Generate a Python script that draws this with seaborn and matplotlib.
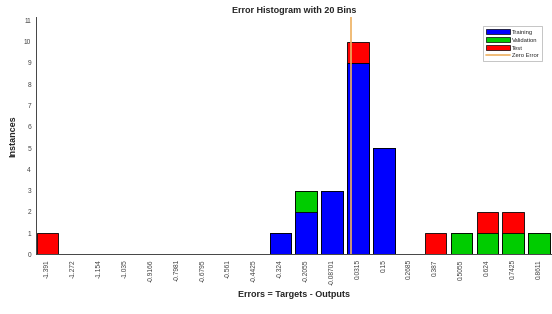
import pandas as pd
import numpy as np
import matplotlib
matplotlib.use("Agg")
import matplotlib.pyplot as plt
import seaborn as sns
from matplotlib.patches import Patch
from matplotlib.lines import Line2D

# bin centers (as shown on the x axis)
bin_labels = ["-1.391", "-1.272", "-1.154", "-1.035", "-0.9166", "-0.7981", "-0.6795",
              "-0.561", "-0.4425", "-0.324", "-0.2055", "-0.08701", "0.0315", "0.15",
              "0.2685", "0.387", "0.5055", "0.624", "0.7425", "0.8611"]
training = [0, 0, 0, 0, 0, 0, 0, 0, 0, 1, 2, 3, 9, 5, 0, 0, 0, 0, 0, 0]
validation = [0, 0, 0, 0, 0, 0, 0, 0, 0, 0, 1, 0, 0, 0, 0, 0, 1, 1, 1, 1]
test = [1, 0, 0, 0, 0, 0, 0, 0, 0, 0, 0, 0, 1, 0, 0, 1, 0, 1, 1, 0]

df = pd.DataFrame({"bin": bin_labels, "Training": training,
                   "Validation": validation, "Test": test})
df["train_val"] = df["Training"] + df["Validation"]
df["total"] = df["train_val"] + df["Test"]

sns.set_style("white")
plt.rcParams["font.family"] = ["Liberation Sans", "DejaVu Sans"]

fig, ax = plt.subplots(figsize=(5.52, 3.14), dpi=100)

# stacked bars: draw totals first, then overlay lower segments
for col, c in [("total", "#FF0000"), ("train_val", "#00CC00"), ("Training", "#0000FF")]:
    sns.barplot(data=df, x="bin", y=col, color=c, edgecolor="black",
                linewidth=0.6, width=0.83, saturation=1, ax=ax)

# hide zero-height bar outlines
for p in ax.patches:
    if p.get_height() == 0:
        p.set_visible(False)

# zero error line position in category coordinates
centers = np.array([float(b) for b in bin_labels])
width = (centers[-1] - centers[0]) / (len(centers) - 1)
zero_pos = (0 - centers[0]) / width
ax.axvline(zero_pos, color="#EDB060", linewidth=1.2, zorder=5)

ax.set_xlim(-0.45, 19.5)
ax.set_ylim(0, 11.15)
ax.set_yticks(range(0, 12))
ax.set_xticks(range(len(bin_labels)))
ax.set_xticklabels(bin_labels, rotation=90, fontsize=4.8, color="#444444")
ax.tick_params(axis="y", labelsize=4.8, labelcolor="#444444")
ax.tick_params(direction="in", length=3, width=0.6, color="#444444")

ax.set_title("Error Histogram with 20 Bins", fontsize=6.5, fontweight="bold", pad=3)
ax.set_xlabel("Errors = Targets - Outputs", fontsize=6.5, fontweight="bold")
ax.set_ylabel("Instances", fontsize=6.5, fontweight="bold")
ax.xaxis.set_label_coords(0.5, -0.15)
ax.yaxis.set_label_coords(-0.036, 0.5)

for s in ["top", "right"]:
    ax.spines[s].set_visible(False)
for s in ["left", "bottom"]:
    ax.spines[s].set_color("#444444")
    ax.spines[s].set_linewidth(0.7)

handles = [Patch(facecolor="#0000FF", edgecolor="black", linewidth=0.5, label="Training"),
           Patch(facecolor="#00CC00", edgecolor="black", linewidth=0.5, label="Validation"),
           Patch(facecolor="#FF0000", edgecolor="black", linewidth=0.5, label="Test"),
           Line2D([0], [0], color="#EDB060", linewidth=1.2, label="Zero Error")]
leg = ax.legend(handles=handles, loc="upper right", bbox_to_anchor=(0.986, 0.975),
                fontsize=4.2, frameon=True, fancybox=False, edgecolor="#999999",
                handlelength=4.2, handleheight=1.0, labelspacing=0.4,
                borderpad=0.5, handletextpad=0.3)
leg.get_frame().set_linewidth(0.5)

plt.subplots_adjust(left=0.065, right=1.0, top=0.945, bottom=0.19)
plt.savefig("out.png", dpi=100)
